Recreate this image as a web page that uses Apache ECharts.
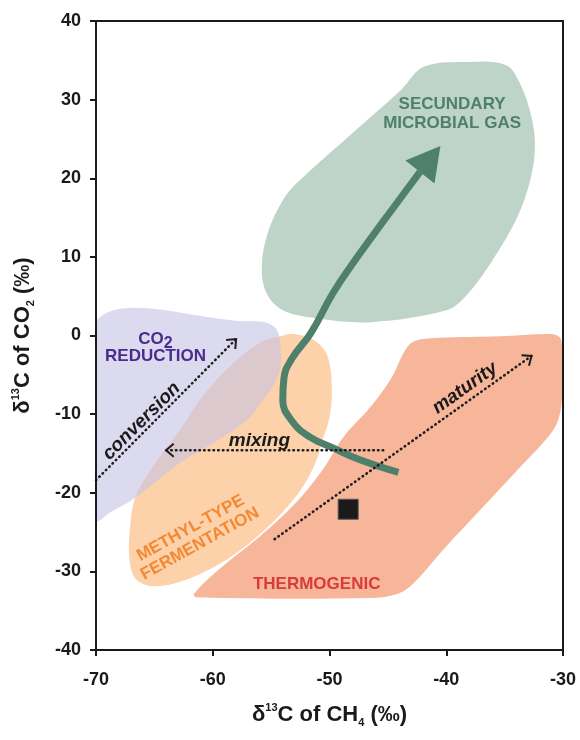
<!DOCTYPE html>
<html>
<head>
<meta charset="utf-8">
<script src="https://cdn.jsdelivr.net/npm/echarts@6/dist/echarts.min.js"></script>
<style>html,body{margin:0;padding:0;background:#fff}#chart{width:580px;height:740px}</style>
</head>
<body>
<div id="chart"></div>
<script>
// ---------- data ----------
const xTicks = [-70, -60, -50, -40, -30];
const yTicks = [-40, -30, -20, -10, 0, 10, 20, 30, 40];

// field outlines (δ13C-CH4, δ13C-CO2)
const microbialX = [-41.9,-38.1,-34.9,-33.7,-32.7,-32.4,-32.8,-33.9,-36.2,-38.4,-40.0,-46.4,-51.2,-54.0,-55.4,-55.8,-55.3,-54.0,-52.8,-48.0,-43.9];
const microbialY = [34.2,34.8,34.4,32.1,27.8,24.0,19.8,15.1,9.2,4.9,3.2,1.7,2.2,3.2,5.4,8.7,13.0,17.2,19.4,25.8,31.2];

const methylX = [-54.2,-53.1,-51.4,-50.2,-49.8,-50.0,-50.6,-51.2,-52.5,-55.1,-58.5,-62.0,-64.9,-66.5,-67.1,-67.1,-66.6,-64.9,-62.8,-60.8,-57.9,-55.8];
const methylY = [-0.1,0.2,-0.5,-2.5,-6.6,-10.4,-13.3,-16.2,-19.7,-24.1,-28.2,-30.9,-31.9,-31.1,-28.9,-24.7,-20.5,-16.2,-12.0,-7.6,-3.1,-0.8];

const co2RedX = [-70,-56.8,-55.3,-54.5,-54.2,-54.2,-54.8,-56.0,-57.1,-60.0,-62.8,-66.5,-68.8,-70];
const co2RedY = [1.8,1.8,1.6,0.7,-1.2,-4.0,-6.3,-8.8,-10.8,-13.7,-16.2,-20.5,-22.5,-23.5];

const thermoX = [-43.5,-42.7,-40.5,-35.4,-31.1,-30.3,-30.1,-30.1,-30.5,-31.5,-33.9,-37.1,-40.3,-42.8,-44.1,-46.5,-61.4,-61.6,-59.2,-56.0,-52.9,-50.6,-48.8,-46.5,-44.7];
const thermoY = [-1.8,-0.7,-0.3,-0.1,0.2,-0.2,-1.2,-8.2,-11.1,-13.3,-17.1,-22.2,-27.3,-31.5,-32.8,-33.4,-33.3,-32.8,-29.4,-25.6,-21.3,-17.1,-12.9,-9.1,-5.4];

// evolution pathway toward secondary microbial gas (last point = arrow tip)
const pathwayX = [-44.1,-47.4,-49.7,-51.7,-53.2,-54.0,-53.9,-53.2,-51.6,-49.7,-47.8,-45.3,-42.25,-40.5];
const pathwayY = [-17.4,-15.8,-14.3,-12.9,-10.9,-8.2,-5.4,-2.9,0.3,5.4,9.6,14.7,20.8,24.1];

// dotted process arrows [start, end]
const conversionX = [-70, -58.0];
const conversionY = [-18.4, -0.45];
const mixingX = [-45.4, -64.0];
const mixingY = [-14.6, -14.6];
const maturityX = [-54.7, -32.7];
const maturityY = [-25.9, -2.6];

// sample
const sampleX = [-48.4];
const sampleY = [-22.1];

// text annotations
const labelTexts = ['SECUNDARY','MICROBIAL GAS','{a|CO}{b|2}','REDUCTION','conversion','mixing','maturity','METHYL-TYPE','FERMENTATION','THERMOGENIC'];
const labelX = [-39.5,-39.5,-64.9,-64.9,-66.1,-56.0,-38.4,-61.9,-61.1,-51.1];
const labelY = [29.4,27.0,-0.5,-2.7,-10.9,-13.4,-6.7,-24.5,-26.5,-31.7];

// ---------- styles ----------
const FONT = "'Liberation Sans', Arial, Helvetica, sans-serif";
const labelStyles = [
  {fill:'#4e806c', font:'bold 17px '+FONT, rot:0},
  {fill:'#4e806c', font:'bold 17px '+FONT, rot:0},
  {fill:'#4a2c8c', font:'bold 17px '+FONT, rot:0},
  {fill:'#4a2c8c', font:'bold 17px '+FONT, rot:0},
  {fill:'#1a1a1a', font:'italic bold 19px '+FONT, rot:45},
  {fill:'#1a1a1a', font:'italic bold 19px '+FONT, rot:0},
  {fill:'#1a1a1a', font:'italic bold 19px '+FONT, rot:35.5},
  {fill:'#f28a35', font:'bold 17px '+FONT, rot:29},
  {fill:'#f28a35', font:'bold 17px '+FONT, rot:29},
  {fill:'#d83b3b', font:'bold 17px '+FONT, rot:0}
];

function zip(xs, ys){ return xs.map((x,i)=>[x, ys[i]]); }

function polygonSeries(xs, ys, fill, opacity, z){
  const pts = zip(xs, ys);
  return {
    type:'custom', coordinateSystem:'cartesian2d', silent:true, z, clip:true,
    data: pts, encode:{x:0, y:1},
    renderItem(params, api){
      if (params.dataIndex !== 0) return null;
      return {type:'polygon', shape:{points: pts.map(p=>api.coord(p)), smooth:0.35},
              style:{fill, opacity}};
    }
  };
}

function dottedArrowSeries(xs, ys, z){
  const pts = zip(xs, ys);
  return {
    type:'custom', coordinateSystem:'cartesian2d', silent:true, z,
    data: pts, encode:{x:0, y:1},
    renderItem(params, api){
      if (params.dataIndex !== 0) return null;
      const a = api.coord(pts[0]), b = api.coord(pts[1]);
      const ang = Math.atan2(b[1]-a[1], b[0]-a[0]);
      const L = 10, w = 0.7;
      const h1 = [b[0]-L*Math.cos(ang-w), b[1]-L*Math.sin(ang-w)];
      const h2 = [b[0]-L*Math.cos(ang+w), b[1]-L*Math.sin(ang+w)];
      return {type:'group', children:[
        {type:'line', shape:{x1:a[0], y1:a[1], x2:b[0], y2:b[1]},
         style:{stroke:'#1e1e1e', lineWidth:2.6, lineDash:[0.5,4.2], lineCap:'round', fill:null}},
        {type:'polyline', shape:{points:[h1, b, h2]},
         style:{stroke:'#1e1e1e', lineWidth:2, fill:null, lineJoin:'miter'}}
      ]};
    }
  };
}

const pathwayPts = zip(pathwayX, pathwayY);
const pathLine = pathwayPts.slice(0, pathwayPts.length-1);

const nameRich = {
  t:{fontFamily:FONT, fontWeight:'bold', fontSize:22, color:'#1a1a1a', lineHeight:26},
  s:{fontFamily:FONT, fontWeight:'bold', fontSize:11, color:'#1a1a1a', lineHeight:12, verticalAlign:'top'},
  u:{fontFamily:FONT, fontWeight:'bold', fontSize:11, color:'#1a1a1a', lineHeight:12, verticalAlign:'bottom'}
};

const option = {
  animation:false,
  backgroundColor:'#ffffff',
  grid:{left:96, right:17, top:21, bottom:90, show:true, borderColor:'#1a1a1a', borderWidth:2, z:30},
  xAxis:{
    type:'value', min:-70, max:-30, interval:10, z:30,
    axisLine:{show:true, onZero:false, lineStyle:{color:'#1a1a1a', width:2}},
    axisTick:{show:true, length:6, lineStyle:{color:'#1a1a1a', width:2}},
    splitLine:{show:false},
    axisLabel:{fontFamily:FONT, fontWeight:'bold', fontSize:18, color:'#1a1a1a', margin:21,
      formatter:v=>xTicks.includes(v)?String(v):''},
    name:'{t|δ}{s|13}{t|C of CH}{u|4}{t| (‰)}', nameLocation:'middle', nameGap:52,
    nameTextStyle:{rich:nameRich}
  },
  yAxis:{
    type:'value', min:-40, max:40, interval:10, z:30,
    axisLine:{show:true, onZero:false, lineStyle:{color:'#1a1a1a', width:2}},
    axisTick:{show:true, length:6, lineStyle:{color:'#1a1a1a', width:2}},
    splitLine:{show:false},
    axisLabel:{fontFamily:FONT, fontWeight:'bold', fontSize:18, color:'#1a1a1a', margin:15,
      formatter:v=>yTicks.includes(v)?String(v):''},
    name:'{t|δ}{s|13}{t|C of CO}{u|2}{t| (‰)}', nameLocation:'middle', nameGap:60, nameRotate:90,
    nameTextStyle:{rich:nameRich}
  },
  series:[
    polygonSeries(microbialX, microbialY, '#bfd4c8', 1, 1),
    polygonSeries(methylX, methylY, '#fdd2aa', 1, 2),
    polygonSeries(co2RedX, co2RedY, 'rgb(198,196,228)', 0.62, 3),
    polygonSeries(thermoX, thermoY, '#f7b599', 1, 4),
    {
      type:'line', z:6, silent:true, data:pathLine, showSymbol:false, smooth:0.45,
      lineStyle:{color:'#4e806c', width:7, cap:'butt'}
    },
    {
      type:'custom', coordinateSystem:'cartesian2d', silent:true, z:6,
      data: pathwayPts.slice(-2), encode:{x:0, y:1},
      renderItem(params, api){
        if (params.dataIndex !== 0) return null;
        const m = api.coord(pathwayPts[pathwayPts.length-2]);
        const t = api.coord(pathwayPts[pathwayPts.length-1]);
        const dx = t[0]-m[0], dy = t[1]-m[1], len = Math.hypot(dx, dy);
        const nx = -dy/len, ny = dx/len, hw = 18.5;
        return {type:'polygon', shape:{points:[t, [m[0]+nx*hw, m[1]+ny*hw], [m[0]-nx*hw, m[1]-ny*hw]]},
                style:{fill:'#4e806c'}};
      }
    },
    dottedArrowSeries(conversionX, conversionY, 8),
    dottedArrowSeries(mixingX, mixingY, 8),
    dottedArrowSeries(maturityX, maturityY, 8),
    {
      type:'scatter', z:9, silent:true, data:zip(sampleX, sampleY), symbol:'rect', symbolSize:20,
      itemStyle:{color:'#1a1a1a', borderColor:'#555555', borderWidth:1, opacity:1}
    },
    {
      type:'custom', coordinateSystem:'cartesian2d', silent:true, z:10,
      data: zip(labelX, labelY), encode:{x:0, y:1},
      renderItem(params, api){
        const i = params.dataIndex;
        const p = api.coord([labelX[i], labelY[i]]);
        const st = labelStyles[i];
        return {type:'text', x:p[0], y:p[1], rotation: st.rot*Math.PI/180,
          style:{text:labelTexts[i], fill:st.fill, font:st.font, align:'center', verticalAlign:'middle',
            rich:{
              a:{fill:st.fill, font:st.font},
              b:{fill:st.fill, font:'bold 16px '+FONT, padding:[8,0,0,0]}
            }}};
      }
    }
  ]
};

const chart = echarts.init(document.getElementById('chart'), null, {renderer:'canvas'});
chart.setOption(option);
</script>
</body>
</html>
